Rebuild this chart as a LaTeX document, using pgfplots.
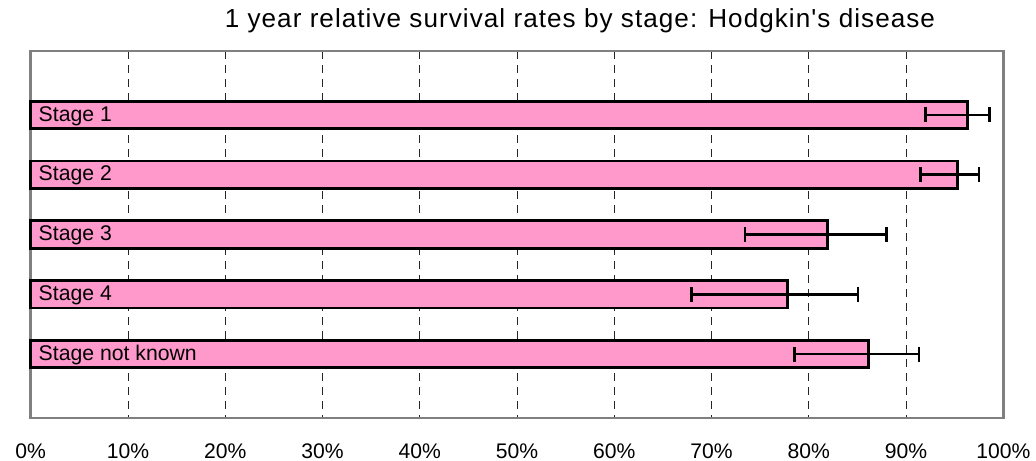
\documentclass[border=0pt]{standalone}
\usepackage{fontspec}
\setmainfont{Liberation Sans}
\newfontfamily\titlefont[LetterSpace=4]{Liberation Sans}
\usepackage{pgfplots}
\pgfplotsset{compat=1.18}
\definecolor{barpink}{HTML}{FF99CC}
\definecolor{boxgray}{HTML}{808080}
\begin{document}
\begin{tikzpicture}[x=1bp,y=1bp]
\path[use as bounding box] (-30.7bp,-43bp) rectangle (1005.3bp,418bp);
\begin{axis}[
  at={(0,0)}, anchor=south west,
  scale only axis, width=972.6bp, height=367bp,
  xmin=0, xmax=100, ymin=-1.07, ymax=5.07,
  y dir=reverse,
  xtick={0,10,...,100},
  xticklabels={0\%,10\%,20\%,30\%,40\%,50\%,60\%,70\%,80\%,90\%,100\%},
  xticklabel style={font=\fontsize{21.2}{25}\selectfont, anchor=base, yshift=-40.3bp, inner sep=0pt},
  ytick=\empty,
  major tick length=0pt,
  xmajorgrids,
  major grid style={black!85, line width=0.9bp, dash pattern=on 8bp off 6bp},
  axis line style={boxgray, line width=2.7bp},
  title={\titlefont 1 year relative survival rates by stage: Hodgkin's disease},
  title style={font=\fontsize{26.2}{30}\selectfont, at={(axis description cs:0.5647,1)}, anchor=base, yshift=17.7bp, inner sep=0pt},
  xbar, bar width=27.5bp,
  clip=false,
]
\addplot[fill=barpink, draw=black, line width=2.7bp,
  error bars/.cd, x dir=both, x explicit,
  error bar style={line width=2.6bp, black},
  error mark options={rotate=90, mark size=7.5bp, line width=2.6bp, black}]
coordinates {
  (96.34,0) += (2.22,0) -= (4.32,0)
  (95.27,1) += (2.23,0) -= (3.80,0)
  (81.90,2) += (6.11,0) -= (8.46,0)
  (77.79,3) += (7.27,0) -= (9.83,0)
  (86.12,4) += (5.21,0) -= (7.57,0)
};
\begin{scope}[every node/.style={font=\fontsize{21.3}{25}\selectfont, anchor=base west, inner sep=0pt, xshift=7.8bp, yshift=-6.2bp}]
\node at (axis cs:0,0) {Stage 1};
\node at (axis cs:0,1) {Stage 2};
\node at (axis cs:0,2) {Stage 3};
\node at (axis cs:0,3) {Stage 4};
\node at (axis cs:0,4) {Stage not known};
\end{scope}
\end{axis}
\end{tikzpicture}
\end{document}
